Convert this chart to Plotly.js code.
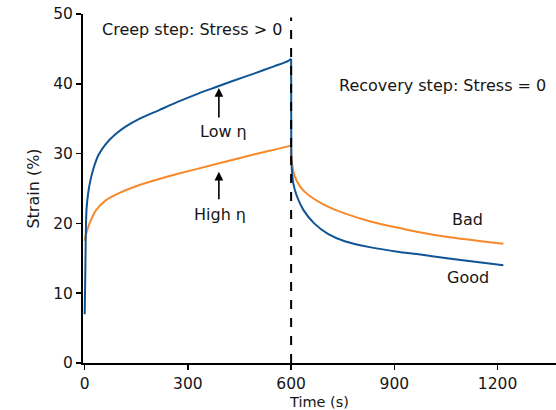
<!DOCTYPE html>
<html>
<head>
<meta charset="utf-8">
<script src="https://cdn.plot.ly/plotly-3.0.1.min.js"></script>
<style>html,body{margin:0;padding:0;background:#fff;}</style>
</head>
<body>
<div id="chart" style="width:556px;height:410px;"></div>
<script>
// Low viscosity ("Good") curve: creep step
const lowCreepTime = [0, 2, 4, 6, 10, 15, 25, 40, 60, 90, 120, 160, 215, 270, 330, 380, 430, 494, 550, 592, 600];
const lowCreepStrain = [7.0, 14.0, 20.5, 22.5, 24.3, 25.8, 27.8, 29.8, 31.3, 32.8, 33.9, 35.0, 36.2, 37.4, 38.6, 39.5, 40.4, 41.5, 42.5, 43.3, 43.6];
// Low viscosity ("Good") curve: recovery step
const lowRecTime = [600, 600.5, 602, 606, 616, 636, 667, 707, 758, 828, 909, 965, 1010, 1111, 1217];
const lowRecStrain = [43.6, 29.5, 27.8, 25.8, 24.0, 21.9, 20.0, 18.5, 17.4, 16.6, 15.95, 15.6, 15.3, 14.65, 14.0];
// High viscosity ("Bad") curve: creep step
const highCreepTime = [0, 3, 6, 14, 33, 61, 98, 153, 219, 271, 382, 494, 596, 600];
const highCreepStrain = [17.5, 18.3, 18.8, 20.0, 21.9, 23.3, 24.3, 25.4, 26.4, 27.1, 28.5, 29.9, 31.1, 31.2];
// High viscosity ("Bad") curve: recovery step
const highRecTime = [600, 601, 606, 616, 636, 667, 707, 758, 828, 879, 909, 965, 1061, 1152, 1217];
const highRecStrain = [31.2, 29.5, 27.6, 26.1, 24.7, 23.5, 22.4, 21.4, 20.3, 19.7, 19.4, 18.8, 18.0, 17.45, 17.1];
const xTicks = [0, 300, 600, 900, 1200];
const yTicks = [0, 10, 20, 30, 40, 50];
const stepTime = 600;

const FONT = "DejaVu Sans, sans-serif";
const blue = "#0f5596";
const orange = "#f7892a";
const TXT = "#161616";

const line = (x, y, c, shape) => ({x: x, y: y, type: "scatter", mode: "lines",
  line: {color: c, width: 2, shape: shape, smoothing: 0.8}, hoverinfo: "skip"});

const traces = [
  line(highCreepTime, highCreepStrain, orange, "spline"),
  line(highRecTime.slice(0, 2), highRecStrain.slice(0, 2), orange, "linear"),
  line(highRecTime.slice(1), highRecStrain.slice(1), orange, "spline"),
  line(lowCreepTime, lowCreepStrain, blue, "spline"),
  line(lowRecTime.slice(0, 2), lowRecStrain.slice(0, 2), blue, "linear"),
  line(lowRecTime.slice(1), lowRecStrain.slice(1), blue, "spline")
];

const txt = (t, x, y, size) => ({text: t, x: x, y: y, xref: "x", yref: "y", showarrow: false,
  font: {family: FONT, size: size || 16, color: TXT}});
const arrow = (x, y, len) => ({text: "", x: x, y: y, xref: "x", yref: "y", showarrow: true,
  ax: 0, ay: len, arrowhead: 2, arrowsize: 1.1, arrowwidth: 1.6, arrowcolor: "#000"});

const layout = {
  width: 556, height: 410,
  margin: {l: 83, r: 0, t: 14, b: 47},
  paper_bgcolor: "#fff", plot_bgcolor: "#fff",
  showlegend: false,
  font: {family: FONT, size: 15, color: TXT},
  xaxis: {
    range: [-5, 1370], tickvals: xTicks, ticktext: xTicks.map(String),
    showline: true, linecolor: "#000", linewidth: 2,
    ticks: "outside", ticklen: 5, tickwidth: 1.5, tickcolor: "#000",
    showgrid: false, zeroline: false,
    tickfont: {family: FONT, size: 15.5, color: TXT},
    title: {text: "Time (s)", font: {family: FONT, size: 14.5, color: TXT}, standoff: 6}
  },
  yaxis: {
    range: [0, 50], tickvals: yTicks, ticktext: yTicks.map(String),
    showline: true, linecolor: "#000", linewidth: 2,
    ticks: "outside", ticklen: 5, tickwidth: 1.5, tickcolor: "#000",
    showgrid: false, zeroline: false,
    tickfont: {family: FONT, size: 15.5, color: TXT},
    title: {text: "Strain (%)", font: {family: FONT, size: 16, color: TXT}, standoff: 10}
  },
  shapes: [
    {type: "line", xref: "x", yref: "y", x0: stepTime, x1: stepTime, y0: 0, y1: 49.5,
     line: {color: "#000", width: 2, dash: "dash"}}
  ],
  annotations: [
    txt("Creep step: Stress &gt; 0", 313, 47.85),
    txt("Recovery step: Stress = 0", 1040, 39.7),
    arrow(390, 39.4, 31),
    txt("Low η", 402, 33.2),
    arrow(390, 27.4, 29),
    txt("High η", 393, 21.3),
    txt("Bad", 1114, 20.5),
    txt("Good", 1114, 12.2)
  ]
};

Plotly.newPlot("chart", traces, layout, {displayModeBar: false, staticPlot: true});
</script>
</body>
</html>
